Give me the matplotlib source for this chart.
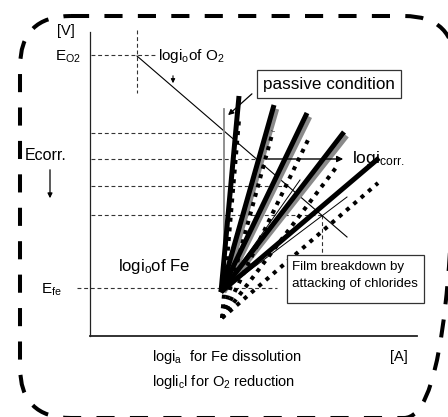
import matplotlib
matplotlib.use("Agg")
import matplotlib.pyplot as plt
from matplotlib.patches import FancyBboxPatch, Rectangle

plt.rcParams['font.family'] = ['Liberation Sans', 'DejaVu Sans']
plt.rcParams['mathtext.fontset'] = 'custom'
plt.rcParams['mathtext.rm'] = 'Liberation Sans'
plt.rcParams['mathtext.it'] = 'Liberation Sans:italic'

# ---- schematic data (diagram coordinates) ----
anodic_origin = (221, 292)
solid_end_x = [239, 274, 307, 344, 379]
solid_end_y = [96, 105, 113, 132, 158]
dotted_origin = (222, 318)
dotted_end_x = [239, 273, 308, 338, 378]
dotted_end_y = [120, 131, 140, 165, 183]
gray_end_x = [277, 310, 347]
gray_end_y = [109, 117, 136]
thin_end_x = [300, 347]
thin_end_y = [180, 197]
o2_line_x = [137, 347]
o2_line_y = [56, 237]
ecorr_levels = [133, 159, 186, 215]
ecorr_ends = [224, 265, 290, 322]
E_O2 = 55
E_fe = 288
passive_x = 224
passive_top = 109

fig = plt.figure(figsize=(4.48, 4.17), dpi=100)
ax = fig.add_axes([0, 0, 1, 1])
ax.set_xlim(0, 448)
ax.set_ylim(417, 0)
ax.axis('off')

# rounded dashed frame
frame = FancyBboxPatch((20, 16), 435, 402, boxstyle="round,pad=0,rounding_size=51",
                       fill=False, lw=2.9, ls=(0, (4.5, 3.8)), ec='black',
                       capstyle='butt', zorder=1)
ax.add_patch(frame)

# axes lines
ax.plot([90, 90], [32, 336], color='#222222', lw=0.9)
ax.plot([90, 417], [336, 336], color='#222222', lw=1.3)

# dashed helper lines
dash = (0, (3.5, 2.5))
ax.plot([91, 157], [E_O2, E_O2], color='#333333', lw=0.8, ls=dash)
ax.plot([137, 137], [30, 93], color='#333333', lw=0.8, ls=dash)
for yl, xe in zip(ecorr_levels, ecorr_ends):
    ax.plot([91, xe], [yl, yl], color='#333333', lw=0.8, ls=dash)
ax.plot([77, 222], [E_fe, E_fe], color='#333333', lw=0.8, ls=dash)
ax.plot([228, 277], [E_fe, E_fe], color='#333333', lw=0.8, ls=dash)
ax.plot([322, 322], [215, 255], color='#333333', lw=0.8, ls=dash)

# O2 reduction line
ax.plot(o2_line_x, o2_line_y, color='black', lw=0.8)

# passive line
ax.plot([passive_x, passive_x], [passive_top, E_fe], color='#888888', lw=1.3)

# thin tafel lines
for xe, ye in zip(thin_end_x, thin_end_y):
    ax.plot([anodic_origin[0], xe], [anodic_origin[1], ye], color='black', lw=0.7)

# gray shadow lines
for xe, ye in zip(gray_end_x, gray_end_y):
    ax.plot([anodic_origin[0] + 3, xe], [anodic_origin[1], ye], color='#8a8a8a', lw=3.2,
            solid_capstyle='butt')

# solid thick lines
for xe, ye in zip(solid_end_x, solid_end_y):
    ax.plot([anodic_origin[0], xe], [anodic_origin[1], ye], color='black', lw=3.6,
            solid_capstyle='butt')

# dotted thick lines
for xe, ye in zip(dotted_end_x, dotted_end_y):
    ax.plot([dotted_origin[0], xe], [dotted_origin[1], ye], color='black', lw=2.9,
            ls=(0, (1, 1.4)), dash_capstyle='butt')

# arrows
ax.annotate('', xy=(173, 86), xytext=(173, 73),
            arrowprops=dict(arrowstyle='-|>', color='black', lw=0.8, mutation_scale=6))
ax.annotate('', xy=(50, 201), xytext=(50, 167),
            arrowprops=dict(arrowstyle='-|>', color='black', lw=0.9, mutation_scale=7))
ax.annotate('', xy=(346, 159), xytext=(265, 159),
            arrowprops=dict(arrowstyle='-|>', color='black', lw=1.0, mutation_scale=9))
ax.annotate('', xy=(226, 117), xytext=(254, 92),
            arrowprops=dict(arrowstyle='-|>', color='black', lw=0.9, mutation_scale=8))

# boxes
ax.add_patch(Rectangle((257, 70), 144, 28, fill=True, fc='white', ec='#333333', lw=0.9, zorder=5))
ax.text(329, 84.5, "passive condition", fontsize=12.3, ha='center', va='center', zorder=6)
ax.add_patch(Rectangle((287, 255), 137, 48, fill=True, fc='white', ec='#333333', lw=0.9, zorder=5))
ax.text(292, 267, "Film breakdown by", fontsize=9.6, ha='left', va='center', zorder=6)
ax.text(292, 284, "attacking of chlorides", fontsize=9.6, ha='left', va='center', zorder=6)

# labels
ax.text(57, 31, "[V]", fontsize=10.5, ha='left', va='center')
ax.text(55, 57, r"E$_\mathregular{O2}$", fontsize=11, ha='left', va='center')
ax.text(158, 56, r"logi$_\mathregular{o}$of O$_\mathregular{2}$", fontsize=11, ha='left', va='center')
ax.text(25, 155, "Ecorr.", fontsize=11.5, ha='left', va='center')
ax.text(118, 267, r"logi$_\mathregular{o}$of Fe", fontsize=12, ha='left', va='center')
ax.text(41, 290, r"E$_\mathregular{fe}$", fontsize=11, ha='left', va='center')
ax.text(352, 159, r"logi$_\mathregular{corr.}$", fontsize=12.5, ha='left', va='center')
ax.text(152, 357, r"logi$_\mathregular{a}$  for Fe dissolution", fontsize=10.5, ha='left', va='center')
ax.text(390, 357, "[A]", fontsize=10.5, ha='left', va='center')
ax.text(152, 382, r"logli$_\mathregular{c}$l for O$_\mathregular{2}$ reduction", fontsize=10.5,
        ha='left', va='center')

fig.savefig("out.png", dpi=100)
